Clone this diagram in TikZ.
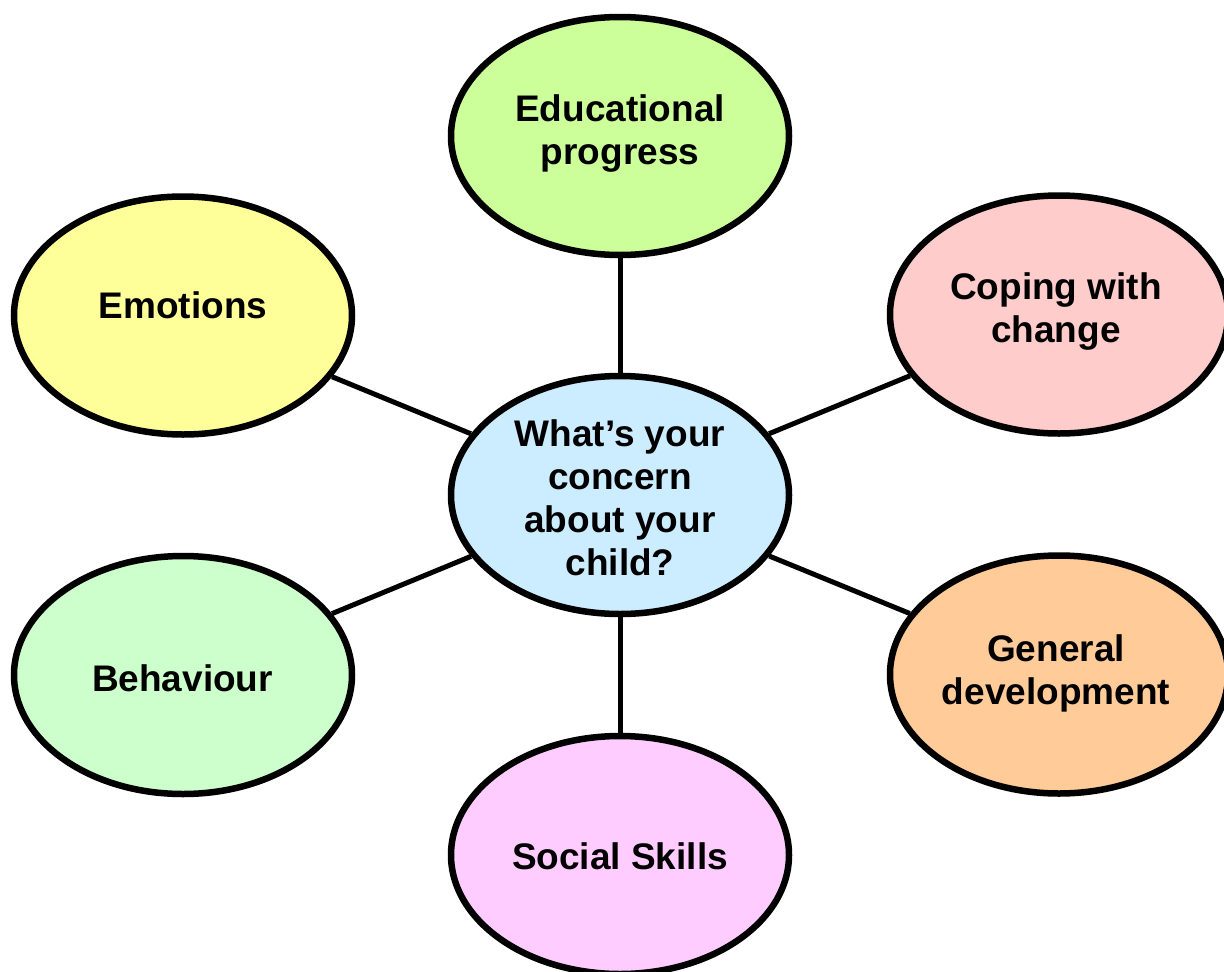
\documentclass[tikz,border=0pt]{standalone}
\usepackage{fontspec}
\setmainfont{Liberation Sans}
\usetikzlibrary{shapes.geometric}
\definecolor{cEdu}{HTML}{CCFF99}
\definecolor{cEmo}{HTML}{FFFF99}
\definecolor{cCop}{HTML}{FFCCCC}
\definecolor{cBeh}{HTML}{CCFFCC}
\definecolor{cGen}{HTML}{FFCC99}
\definecolor{cSoc}{HTML}{FFCCFF}
\definecolor{cMid}{HTML}{CCECFF}
\tikzset{
  bubble/.style={ellipse, draw=black, line width=6.5pt, minimum width=338pt, minimum height=238pt, inner sep=0pt},
  lbl/.style={align=center, font=\bfseries\fontsize{37}{43}\selectfont, inner sep=0pt},
  link/.style={draw=black, line width=5pt}
}
\begin{document}
\begin{tikzpicture}[x=1pt,y=-1pt]
\clip (0,0) rectangle (1224,972);
\node[bubble, fill=cMid] (mid) at (620,495) {};
\node[bubble, fill=cEdu] (edu) at (620,136) {};
\node[bubble, fill=cEmo] (emo) at (183,315.5) {};
\node[bubble, fill=cCop] (cop) at (1059,314.5) {};
\node[bubble, fill=cBeh] (beh) at (183,675) {};
\node[bubble, fill=cGen] (gen) at (1059,674.5) {};
\node[bubble, fill=cSoc] (soc) at (620,855) {};
\draw[link] (mid) -- (edu);
\draw[link] (mid) -- (emo);
\draw[link] (mid) -- (cop);
\draw[link] (mid) -- (beh);
\draw[link] (mid) -- (gen);
\draw[link] (mid) -- (soc);
\node[lbl] (tmid) at (620,497.5) {What’s your\\concern\\about your\\child?};
\node[lbl] (tedu) at (620,133.4) {Educational\\progress};
\node[lbl] (temo) at (183,305.5) {Emotions};
\node[lbl] (tcop) at (1056,312) {Coping with\\change};
\node[lbl] (tbeh) at (182.5,678.5) {Behaviour};
\node[lbl] (tgen) at (1056,673.4) {General\\development};
\node[lbl] (tsoc) at (620,856.5) {Social Skills};
\end{tikzpicture}
\end{document}
